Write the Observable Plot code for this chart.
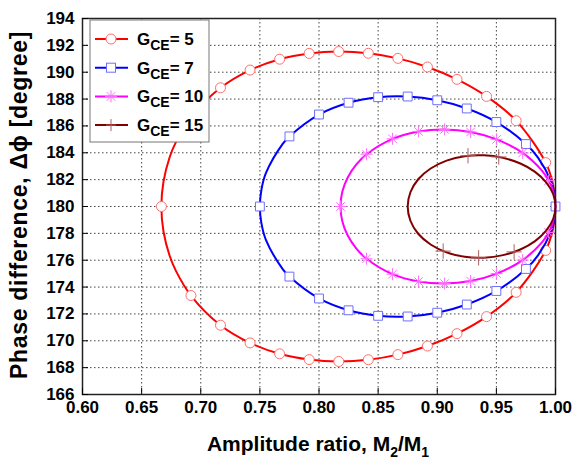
<!DOCTYPE html>
<html><head><meta charset="utf-8">
<script src="https://cdn.jsdelivr.net/npm/d3@7"></script>
<script src="https://cdn.jsdelivr.net/npm/@observablehq/plot@0.6"></script>
<style>
body{margin:0;background:#fff}
#chart{position:relative;width:574px;height:468px}
</style>
</head><body><div id="chart"></div>
<script>
// ---------- data ----------
const xTicks = [0.60, 0.65, 0.70, 0.75, 0.80, 0.85, 0.90, 0.95, 1.00];
const yTicks = [166, 168, 170, 172, 174, 176, 178, 180, 182, 184, 186, 188, 190, 192, 194];
const seriesLabels = ["5", "7", "10", "15"];

// G_CE = 5 (markers on lower / upper branch)
const g5MarkX  = [0.6667, 0.6917, 0.7167, 0.7417, 0.7667, 0.7917, 0.8167, 0.8417, 0.8667, 0.8917, 0.9167, 0.9417, 0.9667, 0.9917];
const g5MarkLo = [180, 173.37, 171.16, 169.84, 169.03, 168.60, 168.46, 168.59, 168.97, 169.61, 170.53, 171.80, 173.61, 176.73];
const g5MarkHi = [180, 186.63, 188.84, 190.16, 190.97, 191.40, 191.54, 191.41, 191.03, 190.39, 189.47, 188.20, 186.39, 183.27];
const g5MidX   = [0.6685, 0.6737, 0.6791, 0.9979, 1.0];
const g5MidLo  = [178.14, 176.33, 175.19, 178.34, 180];
const g5MidHi  = [181.86, 183.67, 184.81, 181.66, 180];

// G_CE = 7
const g7MarkX  = [0.75, 0.775, 0.80, 0.825, 0.85, 0.875, 0.90, 0.925, 0.95, 0.975, 1.0];
const g7MarkLo = [180, 174.78, 173.15, 172.27, 171.86, 171.81, 172.09, 172.70, 173.71, 175.35, 180];
const g7MarkHi = [180, 185.22, 186.85, 187.73, 188.14, 188.19, 187.91, 187.30, 186.29, 184.65, 180];
const g7MidX   = [0.7513, 0.7550, 0.7693, 0.9852, 0.9963, 0.9991];
const g7MidLo  = [178.76, 177.54, 175.34, 176.36, 178.14, 179.06];
const g7MidHi  = [181.24, 182.46, 184.66, 183.64, 181.86, 180.94];

// G_CE = 10
const g10MarkX  = [0.8182, 0.8402, 0.8622, 0.8842, 0.9062, 0.9282, 0.9502, 0.9722, 0.9942];
const g10MarkLo = [180, 176.11, 174.96, 174.41, 174.26, 174.45, 175.00, 176.01, 178.07];
const g10MarkHi = [180, 183.89, 185.04, 185.59, 185.74, 185.55, 185.00, 183.99, 181.93];
const g10MidX   = [0.8197, 0.8243, 0.8316, 0.9889, 0.9972, 1.0];
const g10MidLo  = [178.90, 177.84, 176.87, 177.37, 178.65, 180];
const g10MidHi  = [181.10, 182.16, 183.13, 182.63, 181.35, 180];

// G_CE = 15
const g15X  = [0.875, 0.8773, 0.8839, 0.8944, 0.9079, 0.9233, 0.9396, 0.9556, 0.9703, 0.9827, 0.9921, 0.9980, 1.0];
const g15Lo = [180, 178.94, 177.97, 177.17, 176.58, 176.25, 176.19, 176.38, 176.80, 177.42, 178.20, 179.07, 180];
const g15Hi = [180, 181.06, 182.03, 182.83, 183.42, 183.75, 183.81, 183.62, 183.20, 182.58, 181.80, 180.93, 180];
const g15MarkX = [0.905, 0.935, 0.965, 0.926, 0.952];
const g15MarkY = [176.68, 176.18, 176.62, 183.78, 183.69];

// ---------- build tables ----------
function loopFrom(xs, lo, hi) {
  const pts = xs.map((x, i) => ({x, lo: lo[i], hi: hi[i]})).sort((a, b) => a.x - b.x);
  const lower = pts.map(p => ({x: p.x, y: p.lo}));
  const upper = pts.slice(1, -1).reverse().map(p => ({x: p.x, y: p.hi}));
  return lower.concat(upper);
}
function markersFrom(xs, lo, hi) {
  const out = [];
  xs.forEach((x, i) => { out.push({x, y: lo[i]}); if (hi[i] !== lo[i]) out.push({x, y: hi[i]}); });
  return out;
}
const g5Loop  = loopFrom(g5MarkX.concat(g5MidX), g5MarkLo.concat(g5MidLo), g5MarkHi.concat(g5MidHi));
const g7Loop  = loopFrom(g7MarkX.concat(g7MidX), g7MarkLo.concat(g7MidLo), g7MarkHi.concat(g7MidHi));
const g10Loop = loopFrom(g10MarkX.concat(g10MidX), g10MarkLo.concat(g10MidLo), g10MarkHi.concat(g10MidHi));
const g15Loop = loopFrom(g15X, g15Lo, g15Hi);
const g5Pts  = markersFrom(g5MarkX, g5MarkLo, g5MarkHi);
const g7Pts  = markersFrom(g7MarkX, g7MarkLo, g7MarkHi);
const g10Pts = markersFrom(g10MarkX, g10MarkLo, g10MarkHi);
const g15Pts = g15MarkX.map((x, i) => ({x, y: g15MarkY[i]}));

// 8-arm asterisk symbol
const asterisk8 = {
  draw(context, size) {
    const r = Math.sqrt(size / Math.PI);
    for (let k = 0; k < 4; k++) {
      const a = k * Math.PI / 4;
      const dx = r * Math.cos(a), dy = r * Math.sin(a);
      context.moveTo(-dx, -dy); context.lineTo(dx, dy);
    }
  }
};

const C = {
  red: "#ff0000", redM: "#ff6e6e",
  blue: "#0000ff", blueM: "#6e6eff",
  mag: "#ff00ff", magM: "#ff6eff",
  brown: "#800000", brownM: "#b06060"
};

const plot = Plot.plot({
  width: 574, height: 468,
  marginLeft: 82, marginRight: 19, marginTop: 18, marginBottom: 74,
  style: {fontFamily: "'Liberation Sans', Arial, sans-serif", fontSize: "17px", fontWeight: "bold", background: "white", color: "black"},
  x: {domain: [0.6, 1.0]},
  y: {domain: [166, 194]},
  marks: [
    Plot.gridX(xTicks, {stroke: "#444", strokeOpacity: 1, strokeWidth: 1, strokeDasharray: "1.5,2.5"}),
    Plot.gridY(yTicks, {stroke: "#444", strokeOpacity: 1, strokeWidth: 1, strokeDasharray: "1.5,2.5"}),
    Plot.line(g5Loop, {x: "x", y: "y", stroke: C.red, strokeWidth: 2, curve: "catmull-rom-closed"}),
    Plot.dot(g5Pts, {x: "x", y: "y", r: 5, fill: "white", stroke: C.redM, strokeWidth: 1}),
    Plot.line(g7Loop, {x: "x", y: "y", stroke: C.blue, strokeWidth: 2, curve: "catmull-rom-closed"}),
    Plot.dot(g7Pts, {x: "x", y: "y", symbol: "square", r: 5, fill: "white", stroke: C.blueM, strokeWidth: 1}),
    Plot.line(g10Loop, {x: "x", y: "y", stroke: C.mag, strokeWidth: 2, curve: "catmull-rom-closed"}),
    Plot.dot(g10Pts, {x: "x", y: "y", symbol: asterisk8, r: 6, fill: "none", stroke: C.magM, strokeWidth: 1}),
    Plot.line(g15Loop, {x: "x", y: "y", stroke: C.brown, strokeWidth: 2, curve: "catmull-rom-closed"}),
    Plot.dot(g15Pts, {x: "x", y: "y", symbol: "plus", r: 5, fill: "none", stroke: C.brownM, strokeWidth: 1}),
    Plot.frame({stroke: "#222", strokeWidth: 1.5}),
    Plot.axisX(xTicks, {tickSize: -6, tickPadding: 12, tickFormat: d => d.toFixed(2), fontSize: 17, label: null}),
    Plot.axisY(yTicks, {tickSize: -6, tickPadding: 14, tickFormat: d => String(d), fontSize: 17, label: null})
  ]
});

document.getElementById("chart").appendChild(plot);
const svg = d3.select(plot);

// axis titles
const xt = svg.append("text")
  .attr("x", 318).attr("y", 451).attr("text-anchor", "middle")
  .attr("font-size", 21).attr("font-weight", "bold").attr("fill", "black");
xt.append("tspan").text("Amplitude ratio, M");
xt.append("tspan").attr("font-size", 14).attr("dy", 6).text("2");
xt.append("tspan").attr("dy", -6).text("/M");
xt.append("tspan").attr("font-size", 14).attr("dy", 6).text("1");

svg.append("text")
  .attr("transform", "translate(27,205) rotate(-90)")
  .attr("text-anchor", "middle")
  .attr("font-size", 23).attr("font-weight", "bold").attr("fill", "black")
  .attr("letter-spacing", "0.7")
  .text("Phase difference, \u0394\u03d5 [degree]");

// legend
const lg = svg.append("g");
lg.append("rect").attr("x", 90).attr("y", 20).attr("width", 119).attr("height", 122)
  .attr("fill", "white").attr("stroke", "#777").attr("stroke-width", 1);
const legendRows = [
  {label: seriesLabels[0], line: C.red, m: C.redM, sym: "circle"},
  {label: seriesLabels[1], line: C.blue, m: C.blueM, sym: "square"},
  {label: seriesLabels[2], line: C.mag, m: C.magM, sym: "asterisk"},
  {label: seriesLabels[3], line: C.brown, m: C.brownM, sym: "plus"}
];
legendRows.forEach((row, i) => {
  const cy = 39 + i * 28.7;
  lg.append("line").attr("x1", 95).attr("x2", 128).attr("y1", cy).attr("y2", cy)
    .attr("stroke", row.line).attr("stroke-width", 2);
  const g = lg.append("g").attr("transform", `translate(111,${cy})`);
  if (row.sym === "circle") {
    g.append("circle").attr("r", 5).attr("fill", "white").attr("stroke", row.m);
  } else if (row.sym === "square") {
    g.append("rect").attr("x", -4.5).attr("y", -4.5).attr("width", 9).attr("height", 9).attr("fill", "white").attr("stroke", row.m);
  } else if (row.sym === "asterisk") {
    g.append("path").attr("d", d3.symbol(asterisk8, Math.PI * 36)()).attr("fill", "none").attr("stroke", row.m);
  } else {
    g.append("path").attr("d", "M-5,0L5,0M0,-6L0,6").attr("fill", "none").attr("stroke", row.m);
  }
  const t = lg.append("text").attr("x", 137).attr("y", cy + 6).attr("text-anchor", "start")
    .attr("font-size", 17).attr("font-weight", "bold").attr("fill", "black");
  t.append("tspan").text("G");
  t.append("tspan").attr("font-size", 14).attr("dy", 5).text("CE");
  t.append("tspan").attr("dy", -5).text("= " + row.label);
});
</script>
</body></html>
